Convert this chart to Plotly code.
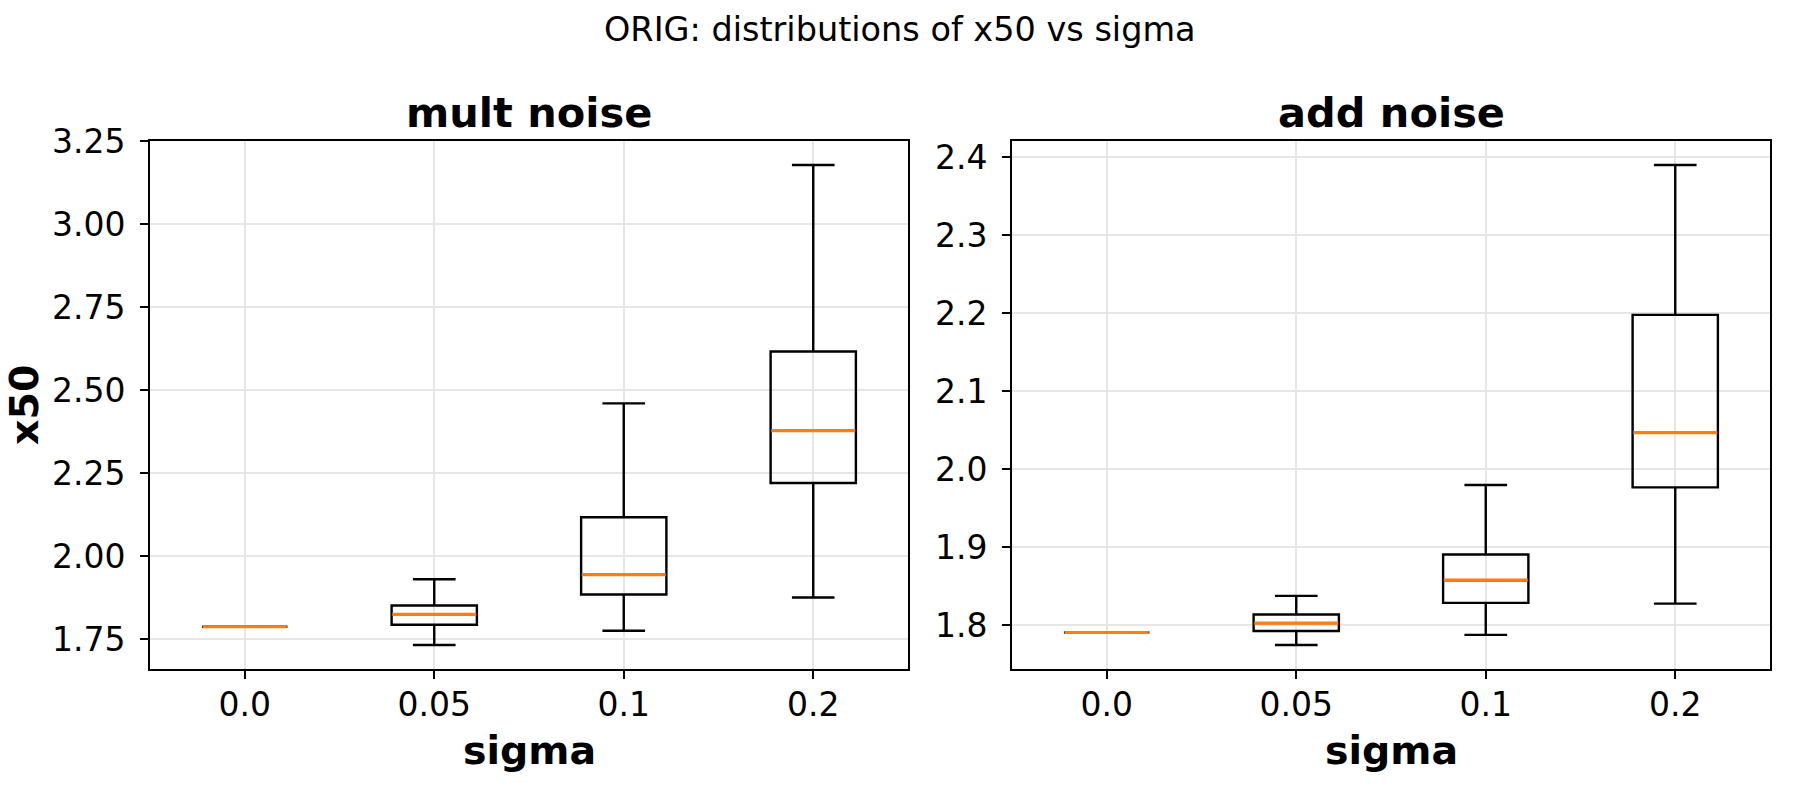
import plotly.graph_objects as go

sigma_labels = ["0.0", "0.05", "0.1", "0.2"]

mult_lo = [1.787, 1.732, 1.775, 1.875]
mult_q1 = [1.787, 1.793, 1.884, 2.220]
mult_med = [1.787, 1.824, 1.944, 2.378]
mult_q3 = [1.787, 1.851, 2.117, 2.616]
mult_hi = [1.787, 1.930, 2.460, 3.178]

add_lo = [1.791, 1.775, 1.788, 1.828]
add_q1 = [1.791, 1.793, 1.829, 1.977]
add_med = [1.791, 1.803, 1.858, 2.047]
add_q3 = [1.791, 1.814, 1.891, 2.198]
add_hi = [1.791, 1.838, 1.980, 2.390]

mult_yticks = [1.75, 2.00, 2.25, 2.50, 2.75, 3.00, 3.25]
add_yticks = [1.8, 1.9, 2.0, 2.1, 2.2, 2.3, 2.4]

FONT = "DejaVu Sans"
W, H = 1800, 800
BOXW = 0.45
LW = 2.4

fig = go.Figure()


def add_panel(xa, ya, lo, q1, med, q3, hi):
    fig.add_trace(go.Box(
        x=sigma_labels, lowerfence=lo, q1=q1, median=med, q3=q3, upperfence=hi,
        xaxis=xa, yaxis=ya, width=BOXW, whiskerwidth=0.5,
        line=dict(color="black", width=LW), fillcolor="rgba(0,0,0,0)",
        boxpoints=False, showlegend=False, hoverinfo="skip"))
    # orange median line drawn as a flat box at the median value
    fig.add_trace(go.Box(
        x=sigma_labels, lowerfence=med, q1=med, median=med, q3=med, upperfence=med,
        xaxis=xa, yaxis=ya, width=BOXW * 0.985, whiskerwidth=0,
        line=dict(color="#ff7f0e", width=LW + 0.8), fillcolor="rgba(0,0,0,0)",
        boxpoints=False, showlegend=False, hoverinfo="skip"))


add_panel("x", "y", mult_lo, mult_q1, mult_med, mult_q3, mult_hi)
add_panel("x2", "y2", add_lo, add_q1, add_med, add_q3, add_hi)


def yrange(lo, hi):
    a, b = min(lo), max(hi)
    m = 0.05 * (b - a)
    return [a - m, b + m]


yd = [(H - 669) / H, (H - 141) / H]
axis_common = dict(
    showline=True, linecolor="black", linewidth=2, mirror=True,
    ticks="outside", ticklen=8, tickwidth=2, tickcolor="black",
    showgrid=True, gridcolor="#e6e6e6", gridwidth=1.8, zeroline=False,
    tickfont=dict(family=FONT, size=33, color="black"),
    automargin=False,
)
xaxis_extra = dict(type="category", range=[-0.5, 3.5], ticklabelstandoff=-3)

fig.update_layout(
    width=W, height=H,
    margin=dict(l=0, r=0, t=0, b=0, pad=0, autoexpand=False),
    paper_bgcolor="white", plot_bgcolor="white",
    boxmode="overlay",
    xaxis=dict(domain=[150 / W, 908 / W], **xaxis_extra, **axis_common),
    yaxis=dict(domain=yd, range=yrange(mult_lo, mult_hi), tickvals=mult_yticks,
               tickformat=".2f", ticklabelstandoff=8, **axis_common),
    xaxis2=dict(domain=[1012 / W, 1770 / W], anchor="y2", **xaxis_extra, **axis_common),
    yaxis2=dict(domain=yd, range=yrange(add_lo, add_hi), tickvals=add_yticks,
                tickformat=".1f", anchor="x2", ticklabelstandoff=8, **axis_common),
    font=dict(family=FONT, color="black"),
)

annotations = [
    dict(text="ORIG: distributions of x50 vs sigma", x=0.5, y=(H - 30) / H,
         font=dict(size=33.5, family=FONT)),
    dict(text="<b>mult noise</b>", x=529 / W, y=(H - 112) / H, font=dict(size=41.5, family=FONT)),
    dict(text="<b>add noise</b>", x=1391 / W, y=(H - 112) / H, font=dict(size=41.5, family=FONT)),
    dict(text="<b>sigma</b>", x=529 / W, y=(H - 750) / H, font=dict(size=39.5, family=FONT)),
    dict(text="<b>sigma</b>", x=1391 / W, y=(H - 750) / H, font=dict(size=39.5, family=FONT)),
    dict(text="<b>x50</b>", x=24 / W, y=(H - 405) / H, textangle=-90,
         font=dict(size=39.5, family=FONT)),
]
for a in annotations:
    a.update(xref="paper", yref="paper", xanchor="center", yanchor="middle",
             showarrow=False)
fig.update_layout(annotations=annotations)

fig.write_html("out.html", config={"displayModeBar": False},
               post_script="document.body.style.margin='0';")
